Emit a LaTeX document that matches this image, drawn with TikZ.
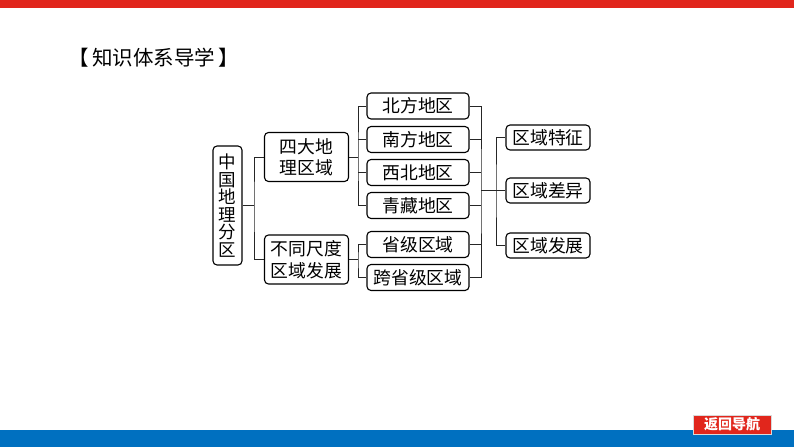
\documentclass[tikz,border=0pt]{standalone}
\usepackage{fontspec}
\setmainfont{Noto Sans CJK SC}
\newfontfamily\hei{Noto Sans CJK SC}
\definecolor{topred}{HTML}{E1261C}
\definecolor{btnred}{HTML}{E1261C}
\definecolor{botblue}{HTML}{0070C0}
\begin{document}
\begin{tikzpicture}[x=1pt,y=-1pt,
  box/.style={draw=black,line width=1.1pt,rounded corners=4pt,inner sep=0pt,align=center,font=\fontsize{17.8}{21.5}\selectfont},
  smallbox/.style={box,minimum width=102pt,minimum height=26pt},
  rbox/.style={box,minimum width=84pt,minimum height=25pt},
  link/.style={draw=black!85,line width=0.9pt}]
\useasboundingbox (0,0) rectangle (794,447);
\fill[topred] (0,0) rectangle (794,8);
\fill[botblue] (0,430) rectangle (794,447);
\node[fill=btnred,draw=black!15,line width=0.8pt,minimum width=78pt,minimum height=19pt,inner sep=0pt,text=white,font=\hei\bfseries\fontsize{14}{14}\selectfont] (btn) at (732,424.5) {返回导航};
\node[font=\fontsize{20.5}{21}\selectfont,inner sep=0pt] (title) at (154,58) {【\,知识体系导学\,】};
% nodes
\node[box,minimum width=29pt,minimum height=119pt,font=\fontsize{17.5}{17.6}\selectfont] (zg) at (227.5,205.5) {中\\国\\地\\理\\分\\区};
\node[box,minimum width=84pt,minimum height=49pt] (sd) at (306.5,157) {四大地\\理区域};
\node[box,minimum width=84pt,minimum height=49pt] (bt) at (306.5,259.5) {不同尺度\\区域发展};
\node[smallbox] (b1) at (418,106) {北方地区};
\node[smallbox] (b2) at (418,139.5) {南方地区};
\node[smallbox] (b3) at (418,172.5) {西北地区};
\node[smallbox] (b4) at (418,205.5) {青藏地区};
\node[smallbox] (b5) at (418,244.5) {省级区域};
\node[smallbox] (b6) at (418,277.5) {跨省级区域};
\node[rbox] (r1) at (548,137.5) {区域特征};
\node[rbox] (r2) at (548,190.5) {区域差异};
\node[rbox] (r3) at (548,245.5) {区域发展};
% junctions
\coordinate (j1) at (254,205.5);
\coordinate (j2) at (358,157);
\coordinate (j3) at (358,259.5);
\coordinate (j4) at (481,190.5);
\coordinate (j5) at (496,190.5);
% connectors
\draw[link] (zg.east) -- (j1);
\draw[link] (sd.west) -| (j1) |- (bt.west);
\draw[link] (sd.east) -- (j2);
\draw[link] (b1.west) -| (j2) |- (b4.west);
\draw[link] (b2.west) -- (b2.west -| j2);
\draw[link] (b3.west) -- (b3.west -| j2);
\draw[link] (bt.east) -- (j3);
\draw[link] (b5.west) -| (j3) |- (b6.west);
\draw[link] (b1.east) -| (j4) |- (b6.east);
\draw[link] (b2.east) -- (b2.east -| j4);
\draw[link] (b3.east) -- (b3.east -| j4);
\draw[link] (b4.east) -- (b4.east -| j4);
\draw[link] (b5.east) -- (b5.east -| j4);
\draw[link] (j4) -- (r2.west);
\draw[link] (r1.west) -| (j5) |- (r3.west);
\end{tikzpicture}
\end{document}
